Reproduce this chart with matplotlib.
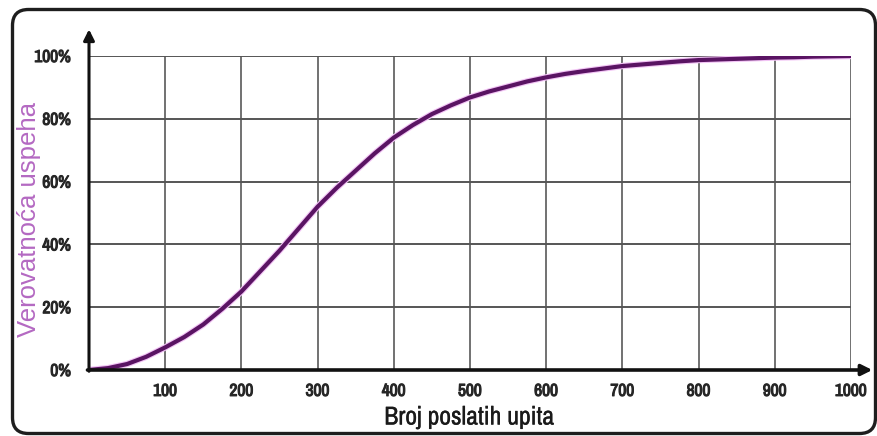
import matplotlib
matplotlib.use("Agg")
import matplotlib.pyplot as plt
import matplotlib.patheffects as pe
from matplotlib.patches import FancyBboxPatch

# ---- data ----
requests = [0, 25, 50, 75, 100, 125, 150, 175, 200, 225, 250, 275, 300,
            325, 350, 375, 400, 425, 450, 475, 500, 525, 550, 575, 600,
            625, 650, 675, 700, 725, 750, 775, 800, 825, 850, 875, 900,
            925, 950, 975, 1000]
probability = [0.0, 0.6, 1.9, 4.2, 7.2, 10.5, 14.5, 19.5, 25.0, 31.5, 38.0,
               45.0, 52.0, 58.0, 63.5, 69.0, 74.0, 78.0, 81.5, 84.3, 86.8,
               88.7, 90.3, 91.9, 93.2, 94.3, 95.2, 96.0, 96.8, 97.3, 97.8,
               98.3, 98.7, 98.9, 99.1, 99.3, 99.5, 99.6, 99.8, 99.9, 100.0]
x_ticks = [100, 200, 300, 400, 500, 600, 700, 800, 900, 1000]
y_ticks = [0, 20, 40, 60, 80, 100]
y_tick_labels = ["0%", "20%", "40%", "60%", "80%", "100%"]
x_label = "Broj poslatih upita"
y_label = "Verovatnoća uspeha"

NARROW = ["Archivo Narrow", "PT Sans Narrow", "Liberation Sans", "DejaVu Sans"]
ARIAL = ["Liberation Sans", "DejaVu Sans"]
TICK_COLOR = "#262626"
bold_fx = [pe.withStroke(linewidth=0.8, foreground=TICK_COLOR)]

W, H = 878, 436
fig = plt.figure(figsize=(W / 100, H / 100), dpi=100)
fig.patch.set_facecolor("white")

# rounded frame (in inches)
frame = FancyBboxPatch((0.125, 0.025), 8.63, 4.24,
                       boxstyle="round,pad=0,rounding_size=0.16",
                       transform=fig.dpi_scale_trans, facecolor="none",
                       edgecolor="#1e1e1e", linewidth=2.4, zorder=0)
fig.patches.append(frame)

left, right, bottom, top = 89, 851, 370, 56
ax = fig.add_axes([left / W, 1 - bottom / H, (right - left) / W, (bottom - top) / H])
ax.set_xlim(0, 1000)
ax.set_ylim(0, 100)
for s in ax.spines.values():
    s.set_visible(False)

# grid
for xv in x_ticks:
    ax.axvline(xv, color="#4a4a4a", lw=1.1, zorder=1)
for yv in y_ticks[1:]:
    ax.axhline(yv, color="#555555", lw=1.4, zorder=1)

# axis arrows
ax.annotate("", xy=(0, 1.085), xytext=(0, -0.004), xycoords="axes fraction",
            annotation_clip=False,
            arrowprops=dict(arrowstyle="-|>", lw=2.2, color="#111111",
                            mutation_scale=16, shrinkA=0, shrinkB=0), zorder=4)
ax.annotate("", xy=(1.028, 0), xytext=(-0.002, 0), xycoords="axes fraction",
            annotation_clip=False,
            arrowprops=dict(arrowstyle="-|>", lw=2.6, color="#111111",
                            mutation_scale=16, shrinkA=0, shrinkB=0), zorder=4)

# curve
ax.plot(requests, probability, color="#f2c4f5", lw=4.6, solid_capstyle="round",
        solid_joinstyle="round", zorder=2)
ax.plot(requests, probability, color="#5a1463", lw=3.0, solid_capstyle="round",
        solid_joinstyle="round", zorder=3)

ax.set_xticks(x_ticks)
ax.set_xticklabels([str(v) for v in x_ticks], family=NARROW,
                   fontweight="bold", fontsize=12.5, color=TICK_COLOR)
ax.set_yticks(y_ticks)
ax.set_yticklabels(y_tick_labels, family=NARROW, fontweight="bold",
                   fontsize=12.5, color=TICK_COLOR)
for lbl in ax.get_xticklabels() + ax.get_yticklabels():
    lbl.set_path_effects(bold_fx)
ax.tick_params(axis="both", length=0)
ax.tick_params(axis="x", pad=10)
ax.tick_params(axis="y", pad=13)

fig.text(469 / W, 1 - 417 / H, x_label, ha="center", va="center",
         family=NARROW, fontsize=18.5, color="#1a1a1a",
         path_effects=[pe.withStroke(linewidth=0.2, foreground="#1a1a1a")])
fig.text(29 / W, 1 - 219 / H, y_label, ha="center", va="center", rotation=90,
         family=ARIAL, fontsize=18.5, color="#b469c2")

fig.savefig("out.png", dpi=100, facecolor="white")
